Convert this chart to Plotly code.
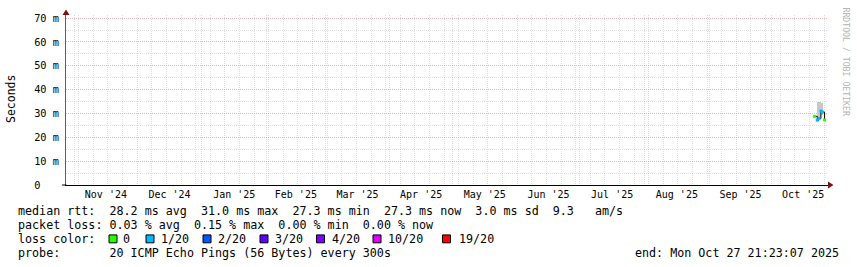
import plotly.graph_objects as go

# ---------------- data ----------------
sample_times = ["2025-10-21 12:00", "2025-10-22 18:00", "2025-10-23 14:00",
                "2025-10-24 12:00", "2025-10-25 06:00", "2025-10-26 06:00"]
median_ms = [28.8, 27.2, 27.9, 31.0, 30.6, 27.3]
loss_count = [0, 1, 1, 1, 1, 0]
smoke_lo_ms = [28.6, 27.0, 27.9, 29.5, 30.4, 27.1]
smoke_hi_ms = [29.2, 27.6, 35.0, 34.6, 31.0, 27.6]

loss_labels = ["0", "1/20", "2/20", "3/20", "4/20", "10/20", "19/20"]
loss_levels = [0, 1, 2, 3, 4, 10, 19]
loss_colors = ["#26ff00", "#00b8ff", "#0059ff", "#5e00ff", "#7e00ff", "#dd00ff", "#ff0000"]

y_tick_vals = [0, 10, 20, 30, 40, 50, 60, 70]
y_tick_text = ["0\u00a0\u00a0\u00a0", "10 m", "20 m", "30 m", "40 m", "50 m", "60 m", "70 m"]

range_start = "2024-10-27 21:23:07"
range_end = "2025-10-27 21:23:07"

line_rtt = "median rtt:  28.2 ms avg  31.0 ms max  27.3 ms min  27.3 ms now  3.0 ms sd  9.3   am/s"
line_loss = "packet loss: 0.03 % avg  0.15 % max  0.00 % min  0.00 % now"
line_probe = "probe:       20 ICMP Echo Pings (56 Bytes) every 300s"
line_end = "end: Mon Oct 27 21:23:07 2025"

# ---------------- layout constants ----------------
W, H = 857, 267
ML, MR, MT, MB = 66, 29, 13, 82
PW, PH = W - ML - MR, H - MT - MB
MONO = "DejaVu Sans Mono"
MAJOR = "rgba(230,120,120,0.36)"
MINOR = "rgba(165,165,165,0.36)"
ARROW = "#7a1010"


def px(x):
    return (x - ML) / PW


def py(y):
    return (H - MB - y) / PH


def loss_color(n):
    c = loss_colors[0]
    for lvl, col in zip(loss_levels, loss_colors):
        if n >= lvl:
            c = col
    return c


fig = go.Figure()
fig.add_trace(go.Bar(
    x=sample_times, y=[h - l for h, l in zip(smoke_hi_ms, smoke_lo_ms)], base=smoke_lo_ms,
    width=86400000 * 1.6, marker=dict(color="#c8c8c8", line=dict(width=0)), hoverinfo="skip"))
fig.add_trace(go.Scatter(
    x=sample_times, y=median_ms, mode="lines",
    line=dict(color="#000000", width=1, shape="hv"), hoverinfo="skip"))
fig.add_trace(go.Scatter(
    x=sample_times, y=median_ms, mode="markers",
    marker=dict(symbol="square", size=3, color=[loss_color(n) for n in loss_count],
                line=dict(width=0))))

fig.update_layout(
    width=W, height=H, margin=dict(l=ML, r=MR, t=MT, b=MB),
    paper_bgcolor="white", plot_bgcolor="white", showlegend=False,
    font=dict(family=MONO, size=10, color="#000000"),
    bargap=0,
)
fig.update_xaxes(
    type="date", range=[range_start, range_end],
    tick0="2024-11-01", dtick="M1", ticklabelmode="period", tickformat="%b '%y",
    showgrid=True, gridcolor=MAJOR, griddash="1px,1px", gridwidth=1,
    minor=dict(tick0="2024-10-27", dtick=7 * 86400000, showgrid=True,
               gridcolor=MINOR, griddash="1px,1px", gridwidth=1),
    showline=True, linecolor="#000000", linewidth=1, zeroline=False,
    ticks="", tickfont=dict(family=MONO, size=10, color="#000000"),
)
fig.update_yaxes(
    range=[0, 71.3], tickmode="array", tickvals=y_tick_vals, ticktext=y_tick_text,
    showgrid=True, gridcolor=MAJOR, griddash="1px,1px", gridwidth=1,
    minor=dict(dtick=5, tick0=0, showgrid=True, gridcolor=MINOR, griddash="1px,1px", gridwidth=1),
    showline=True, linecolor="#606060", linewidth=1, zeroline=False,
    ticks="", ticklabelstandoff=4, tickfont=dict(family=MONO, size=10.3, color="#000000"),
)

shapes = [
    # axis arrows
    dict(type="path", xref="paper", yref="paper", xsizemode="pixel", ysizemode="pixel",
         xanchor=0, yanchor=1, path="M -3.5,0 L 3.5,0 L 0,5.5 Z",
         fillcolor=ARROW, line=dict(width=0)),
    dict(type="path", xref="paper", yref="paper", xsizemode="pixel", ysizemode="pixel",
         xanchor=1, yanchor=0, path="M 0,-3.5 L 0,3.5 L 5.5,0 Z",
         fillcolor=ARROW, line=dict(width=0)),
    dict(type="line", xref="paper", yref="paper", x0=px(62), x1=px(66.5), y0=0, y1=0,
         line=dict(color="#000000", width=1)),
]

annotations = [
    dict(text="Seconds", x=px(11), y=py(98), xref="paper", yref="paper", showarrow=False,
         textangle=-90, font=dict(family=MONO, size=11.5, color="#000000"),
         xanchor="center", yanchor="middle"),
    dict(text="RRDTOOL / TOBI OETIKER", x=px(846), y=py(60), xref="paper", yref="paper",
         showarrow=False, textangle=90, font=dict(family=MONO, size=8.2, color="#b4b4b4"),
         xanchor="center", yanchor="middle"),
]
for txt, yy in [(line_rtt, 211.5), (line_loss, 225.5), ("loss color:", 239.5), (line_probe, 253.5)]:
    annotations.append(dict(text=txt.replace(" ", "\u00a0"), x=px(15.5), y=py(yy), xref="paper",
                            yref="paper", showarrow=False, xanchor="left", yanchor="middle",
                            font=dict(family=MONO, size=11.7, color="#000000")))
annotations.append(dict(text=line_end.replace(" ", "\u00a0"), x=px(841), y=py(253.5), xref="paper",
                        yref="paper", showarrow=False, xanchor="right", yanchor="middle",
                        font=dict(family=MONO, size=11.7, color="#000000")))

swatch_x = [109, 146, 203, 260, 316.5, 373, 442.5]
label_x = [121, 158.5, 215.5, 272.5, 329.5, 386, 457]
for sx, lx, lab, col in zip(swatch_x, label_x, loss_labels, loss_colors):
    shapes.append(dict(type="rect", xref="paper", yref="paper",
                       x0=px(sx), x1=px(sx + 8), y0=py(243.5), y1=py(235.5),
                       fillcolor=col, line=dict(color="#000000", width=1)))
    annotations.append(dict(text=lab, x=px(lx), y=py(239.5), xref="paper", yref="paper",
                            showarrow=False, xanchor="left", yanchor="middle",
                            font=dict(family=MONO, size=11.7, color="#000000")))

fig.update_layout(shapes=shapes, annotations=annotations)
fig.write_html("out.html")
